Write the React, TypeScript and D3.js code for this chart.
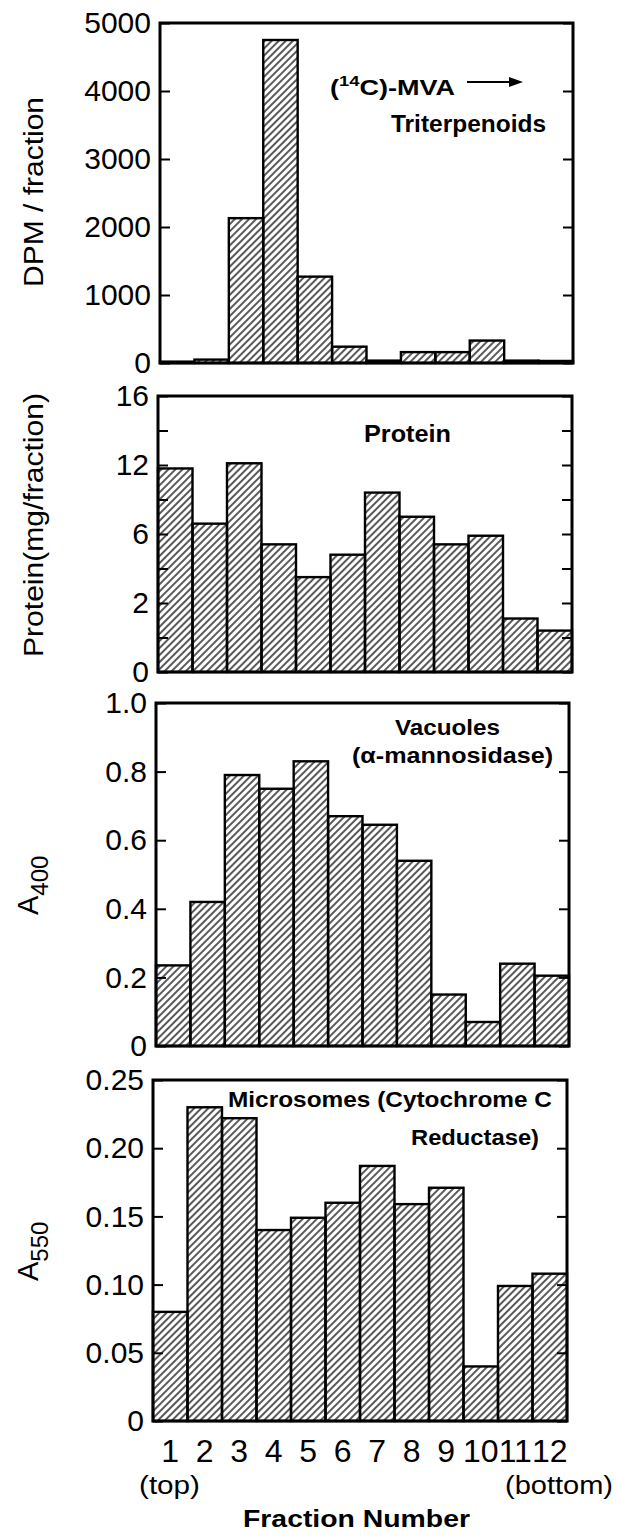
import { useEffect, useRef } from 'react';
import * as d3 from 'd3';

// fraction numbers along the gradient
const FRACTIONS = ['1', '2', '3', '4', '5', '6', '7', '8', '9', '10', '11', '12'];

// (14C)-MVA -> triterpenoids, DPM per fraction
const DPM = [20, 50, 2130, 4750, 1270, 240, 35, 160, 160, 330, 35, 30];
const DPM_TICKS = [0, 1000, 2000, 3000, 4000, 5000];
const DPM_LABELS = ['0', '1000', '2000', '3000', '4000', '5000'];

// protein, mg per fraction (axis labels are printed 0,2,6,12,16 in the original)
const PROTEIN = [11.8, 8.6, 12.1, 7.4, 5.5, 6.8, 10.4, 9.0, 7.4, 7.9, 3.1, 2.4];
const PROTEIN_TICKS = [0, 2, 4, 6, 8, 10, 12, 14, 16];
const PROTEIN_LABEL_AT = [0, 4, 8, 12, 16];
const PROTEIN_LABELS = ['0', '2', '6', '12', '16'];

// vacuoles, alpha-mannosidase A400
const A400 = [0.235, 0.42, 0.79, 0.75, 0.83, 0.67, 0.645, 0.54, 0.15, 0.07, 0.24, 0.205];
const A400_TICKS = [0, 0.2, 0.4, 0.6, 0.8, 1.0];
const A400_LABELS = ['0', '0.2', '0.4', '0.6', '0.8', '1.0'];

// microsomes, cytochrome c reductase A550
const A550 = [0.08, 0.23, 0.222, 0.14, 0.149, 0.16, 0.187, 0.159, 0.171, 0.04, 0.099, 0.108];
const A550_TICKS = [0, 0.05, 0.1, 0.15, 0.2, 0.25];
const A550_LABELS = ['0', '0.05', '0.10', '0.15', '0.20', '0.25'];

const FONT = "'Liberation Sans', Arial, sans-serif";

const PANELS = [
    { values: DPM, max: 5000, ticks: DPM_TICKS, labelAt: DPM_TICKS, labels: DPM_LABELS,
      left: 160, right: 573, top: 23, bottom: 363 },
    { values: PROTEIN, max: 16, ticks: PROTEIN_TICKS, labelAt: PROTEIN_LABEL_AT, labels: PROTEIN_LABELS,
      left: 158, right: 572, top: 396, bottom: 672 },
    { values: A400, max: 1.0, ticks: A400_TICKS, labelAt: A400_TICKS, labels: A400_LABELS,
      left: 156, right: 569, top: 703, bottom: 1046 },
    { values: A550, max: 0.25, ticks: A550_TICKS, labelAt: A550_TICKS, labels: A550_LABELS,
      left: 153, right: 567, top: 1080, bottom: 1421 }
];

export default function App() {
    const svgRef = useRef(null);

    useEffect(() => {
        const svg = d3.select(svgRef.current);
        svg.selectAll('*').remove();

        const pattern = svg.append('defs').append('pattern')
            .attr('id', 'hatch')
            .attr('patternUnits', 'userSpaceOnUse')
            .attr('width', 5)
            .attr('height', 5)
            .attr('patternTransform', 'rotate(45)');
        pattern.append('line')
            .attr('x1', 1).attr('y1', 0).attr('x2', 1).attr('y2', 5)
            .attr('stroke', '#000').attr('stroke-width', 1.3);

        PANELS.forEach((p, k) => {
            const x = d3.scaleBand().domain(FRACTIONS).range([p.left, p.right]).padding(0);
            const y = d3.scaleLinear().domain([0, p.max]).range([p.bottom, p.top]);
            const g = svg.append('g');

            g.selectAll('rect.bar').data(p.values).join('rect')
                .attr('class', 'bar')
                .attr('x', (d, i) => x(FRACTIONS[i]))
                .attr('y', (d) => y(d))
                .attr('width', x.bandwidth())
                .attr('height', (d) => y(0) - y(d))
                .attr('fill', 'url(#hatch)')
                .attr('stroke', '#000')
                .attr('stroke-width', 2.4);

            const leftAxis = d3.axisLeft(y)
                .tickValues(p.ticks)
                .tickSizeInner(-10)
                .tickSizeOuter(0)
                .tickPadding(9)
                .tickFormat((v) => {
                    const j = p.labelAt.findIndex((t) => Math.abs(t - v) < 1e-9);
                    return j >= 0 ? p.labels[j] : '';
                });
            const rightAxis = d3.axisRight(y)
                .tickValues(p.ticks)
                .tickSizeInner(-10)
                .tickSizeOuter(0)
                .tickFormat(() => '');

            const gl = g.append('g').attr('transform', `translate(${p.left},0)`).call(leftAxis);
            const gr = g.append('g').attr('transform', `translate(${p.right},0)`).call(rightAxis);
            [gl, gr].forEach((a) => {
                a.select('.domain').remove();
                a.selectAll('line').attr('stroke-width', 2);
            });
            gl.selectAll('text')
                .attr('font-family', FONT)
                .attr('font-size', 30)
                .attr('fill', '#000');

            g.append('rect')
                .attr('x', p.left).attr('y', p.top)
                .attr('width', p.right - p.left).attr('height', p.bottom - p.top)
                .attr('fill', 'none').attr('stroke', '#000').attr('stroke-width', 3);

            if (k === PANELS.length - 1) {
                const xAxis = d3.axisBottom(x).tickSize(0).tickPadding(18);
                const gx = g.append('g').attr('transform', `translate(0,${p.bottom})`).call(xAxis);
                gx.select('.domain').remove();
                gx.selectAll('text')
                    .attr('font-family', FONT)
                    .attr('font-size', 32)
                    .attr('fill', '#000');
            }
        });
    }, []);

    const txt = { fontFamily: FONT, fill: '#000' };
    const bold = { fontFamily: FONT, fill: '#000', fontWeight: 700 };

    return (
        <svg width={617} height={1537} style={{ position: 'absolute', left: 0, top: 0, background: '#fff' }}>
            <g ref={svgRef} />

            {/* axis titles */}
            <text transform="translate(43,192) rotate(-90)" textAnchor="middle" fontSize={27}
                textLength={190} lengthAdjust="spacingAndGlyphs" style={txt}>DPM / fraction</text>
            <text transform="translate(43,525) rotate(-90)" textAnchor="middle" fontSize={27}
                textLength={264} lengthAdjust="spacingAndGlyphs" style={txt}>Protein(mg/fraction)</text>
            <text transform="translate(38,915) rotate(-90)" style={txt}>
                <tspan fontSize={29}>A</tspan>
                <tspan fontSize={24} dy={10}>400</tspan>
            </text>
            <text transform="translate(38,1281) rotate(-90)" style={txt}>
                <tspan fontSize={29}>A</tspan>
                <tspan fontSize={24} dy={10}>550</tspan>
            </text>

            {/* panel annotations */}
            <text x={330} y={95} fontSize={22} textLength={125} lengthAdjust="spacingAndGlyphs" style={bold}>
                (<tspan fontSize={15} dy={-9}>14</tspan><tspan dy={9}>C)-MVA</tspan>
            </text>
            <line x1={467} y1={82} x2={512} y2={82} stroke="#000" strokeWidth={2.2} />
            <path d="M509,77 L523,82 L509,87 Z" fill="#000" />
            <text x={391} y={132} fontSize={23} textLength={155} lengthAdjust="spacingAndGlyphs" style={bold}>Triterpenoids</text>
            <text x={364} y={442} fontSize={23} textLength={87} lengthAdjust="spacingAndGlyphs" style={bold}>Protein</text>
            <text x={395} y={735} fontSize={22} textLength={105} lengthAdjust="spacingAndGlyphs" style={bold}>Vacuoles</text>
            <text x={352} y={763} fontSize={22} textLength={201} lengthAdjust="spacingAndGlyphs" style={bold}>(α-mannosidase)</text>
            <text x={228} y={1107} fontSize={22} textLength={324} lengthAdjust="spacingAndGlyphs" style={bold}>Microsomes (Cytochrome C</text>
            <text x={411} y={1145} fontSize={22} textLength={128} lengthAdjust="spacingAndGlyphs" style={bold}>Reductase)</text>

            {/* x axis captions */}
            <text x={139} y={1494} fontSize={25} textLength={61} lengthAdjust="spacingAndGlyphs" style={txt}>(top)</text>
            <text x={505} y={1494} fontSize={25} textLength={108} lengthAdjust="spacingAndGlyphs" style={txt}>(bottom)</text>
            <text x={243} y={1527} fontSize={23} textLength={227} lengthAdjust="spacingAndGlyphs" style={bold}>Fraction Number</text>
        </svg>
    );
}
